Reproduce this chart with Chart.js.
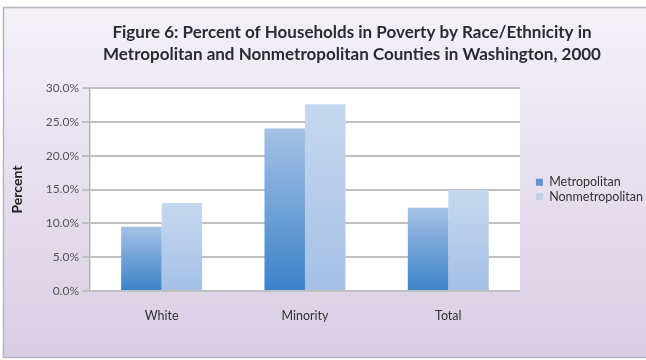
<!DOCTYPE html>
<html>
<head>
<meta charset="utf-8">
<script src="https://cdn.jsdelivr.net/npm/chart.js@4.4.1/dist/chart.umd.min.js"></script>
<style>
  html, body { margin: 0; padding: 0; background: #fff; overflow: hidden; }
  #wrap { width: 646px; height: 360px; }
</style>
</head>
<body>
<div id="wrap"><canvas id="povertyChart" width="646" height="360"></canvas></div>
<script>
// ---- Data ----
const categories = ["White", "Minority", "Total"];
const metroValues = [9.5, 24.0, 12.3];
const nonmetroValues = [13.0, 27.6, 14.9];
const seriesNames = ["Metropolitan", "Nonmetropolitan"];
const titleLines = [
  "Figure 6: Percent of Households in Poverty by Race/Ethnicity in",
  "Metropolitan and Nonmetropolitan Counties in Washington, 2000"
];

const FONT = "Lato, 'Open Sans', sans-serif";

// per-bar vertical gradient, dark at the base
function barFill(bottomColor, topColor) {
  return function (c) {
    const chart = c.chart;
    const ys = chart.scales && chart.scales.y;
    if (!ys || c.raw == null) return bottomColor;
    const top = ys.getPixelForValue(c.raw);
    const bottom = ys.getPixelForValue(0);
    if (!isFinite(top) || !isFinite(bottom) || top === bottom) return bottomColor;
    const g = chart.ctx.createLinearGradient(0, bottom, 0, top);
    g.addColorStop(0, bottomColor);
    g.addColorStop(1, topColor);
    return g;
  };
}

// lavender panel behind everything, white plot area
const panelBackground = {
  id: "panelBackground",
  beforeDraw(chart) {
    const { ctx, width, height, chartArea } = chart;
    ctx.save();
    ctx.fillStyle = "#ffffff";
    ctx.fillRect(0, 0, width, height);
    const g = ctx.createLinearGradient(0, 7, 0, 358);
    g.addColorStop(0, "#f4f1f7");
    g.addColorStop(1, "#d9cde4");
    ctx.fillStyle = g;
    ctx.fillRect(3, 7, width, 351);
    ctx.strokeStyle = "#b9b2c2";
    ctx.lineWidth = 1.5;
    ctx.strokeRect(3.5, 7.5, width, 350);
    ctx.fillStyle = "#ffffff";
    ctx.fillRect(chartArea.left, chartArea.top, chartArea.right - chartArea.left, chartArea.bottom - chartArea.top);
    ctx.restore();
  }
};

// two-line heading, centred over the panel (sits a little right of the canvas middle)
const figureTitle = {
  id: "figureTitle",
  afterDraw(chart, args, opts) {
    const ctx = chart.ctx;
    ctx.save();
    ctx.font = "bold 17px " + FONT;
    ctx.fillStyle = "#2b2b35";
    ctx.textAlign = "center";
    ctx.textBaseline = "middle";
    opts.lines.forEach((line, i) => ctx.fillText(line, opts.x, opts.y + i * opts.lineHeight));
    ctx.restore();
  }
};

const legendSolid = ["#5e92d2", "#bad0eb"];

new Chart(document.getElementById("povertyChart"), {
  type: "bar",
  data: {
    labels: categories,
    datasets: [
      {
        label: seriesNames[0],
        data: metroValues,
        backgroundColor: barFill("#3a82ca", "#a5c1e4")
      },
      {
        label: seriesNames[1],
        data: nonmetroValues,
        backgroundColor: barFill("#a4c0e5", "#c6d8ef")
      }
    ]
  },
  options: {
    responsive: false,
    animation: false,
    // legend text runs off the right edge of the panel
    layout: { padding: { left: 0, right: -7, top: 88, bottom: 0 } },
    datasets: { bar: { categoryPercentage: 0.565, barPercentage: 1.0, borderWidth: 0 } },
    scales: {
      x: {
        grid: { display: false },
        border: { display: false },
        ticks: { color: "#333", font: { family: FONT, size: 12.5 }, padding: 9 },
        afterFit(s) { s.height = 69; }
      },
      y: {
        min: 0,
        max: 30,
        ticks: {
          stepSize: 5,
          color: "#555",
          font: { family: FONT, size: 12 },
          padding: 3,
          callback: (v) => v.toFixed(1) + "%"
        },
        grid: { color: "#c0c0c0", lineWidth: 2, tickLength: 8 },
        border: { display: true, color: "#b5b5b5", width: 1.5 },
        title: {
          display: true,
          text: "Percent",
          color: "#222",
          font: { family: FONT, size: 14, weight: "bold" },
          padding: { top: 8.6, bottom: 0 }
        },
        afterFit(s) { s.width = 90; }
      },
      // spacer between plot and legend
      gap: {
        type: "linear",
        position: "right",
        display: true,
        grid: { display: false, drawTicks: false },
        border: { display: false },
        ticks: { display: false },
        afterFit(s) { s.width = 14; }
      }
    },
    plugins: {
      title: { display: false },
      figureTitle: { lines: titleLines, x: 352, y: 33, lineHeight: 22 },
      legend: {
        position: "right",
        align: "center",
        fullSize: false,
        maxWidth: 220,
        labels: {
          boxWidth: 7,
          boxHeight: 7,
          padding: 2,
          color: "#333",
          font: { family: FONT, size: 12.5, lineHeight: 1.12 },
          generateLabels(chart) {
            return Chart.defaults.plugins.legend.labels.generateLabels(chart).map((l, i) => {
              l.fillStyle = legendSolid[i];
              l.strokeStyle = legendSolid[i];
              l.lineWidth = 0;
              return l;
            });
          }
        }
      },
      tooltip: { enabled: false }
    }
  },
  plugins: [panelBackground, figureTitle]
});
</script>
</body>
</html>
